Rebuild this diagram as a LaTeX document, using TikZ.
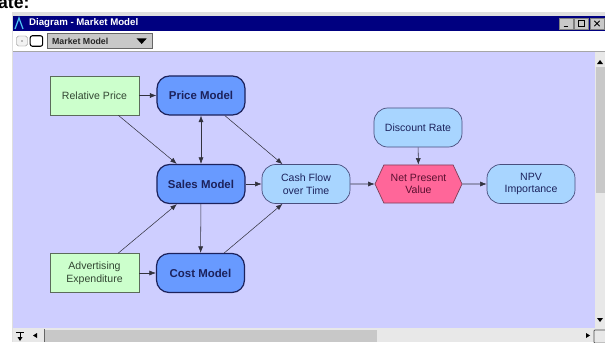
\documentclass[tikz,border=0pt]{standalone}
\usepackage{fontspec}
\setmainfont{Liberation Sans}
\usepackage{tikz}
\usetikzlibrary{positioning, calc, arrows.meta, shapes.symbols}
\definecolor{canvasLav}{RGB}{206, 206, 255}
\definecolor{titleNavy}{RGB}{0, 0, 128}
\definecolor{inGreen}{RGB}{204, 255, 204}
\definecolor{inText}{RGB}{50, 70, 50}
\definecolor{modelBlue}{RGB}{104, 154, 255}
\definecolor{varBlue}{RGB}{168, 213, 255}
\definecolor{valPink}{RGB}{255, 102, 153}
\definecolor{valText}{RGB}{90, 16, 48}
\definecolor{textNavy}{RGB}{28, 34, 92}
\definecolor{lineGray}{RGB}{50, 50, 62}
\definecolor{winGray}{RGB}{200, 200, 200}
\definecolor{trackGray}{RGB}{232, 232, 232}
\tikzset{
  inputbox/.style={rectangle, draw=inText!80, fill=inGreen, line width=0.8pt,
                   minimum width=3.56cm, minimum height=1.56cm,
                   align=center, text=inText, font=\fontsize{12}{14.5}\selectfont},
  modelbox/.style={rectangle, draw=textNavy, fill=modelBlue, line width=1.4pt,
                   minimum width=3.52cm, minimum height=1.56cm, rounded corners=0.5cm,
                   align=center, text=textNavy, font=\fontsize{13}{15}\selectfont\bfseries},
  varbox/.style={rectangle, draw=textNavy!80, fill=varBlue, line width=0.8pt,
                 minimum width=3.52cm, minimum height=1.56cm, rounded corners=0.55cm,
                 align=center, text=textNavy, font=\fontsize{12}{14.5}\selectfont},
  valuebox/.style={signal, signal to=west and east, signal pointer angle=130,
                   draw=valText!80, fill=valPink, line width=0.8pt,
                   minimum width=3.48cm, minimum height=1.52cm,
                   align=center, text=valText, font=\fontsize{12}{14.5}\selectfont},
  winbtn/.style={rectangle, fill=winGray, draw=gray, line width=0.4pt,
                 minimum width=0.56cm, minimum height=0.46cm, inner sep=0pt},
}

\begin{document}
\begin{tikzpicture}[
    x=0.04cm, y=-0.04cm,
    arrow/.style={-{Latex[length=2.6mm, width=2mm]}, draw=lineGray, line width=0.6pt},
    biarrow/.style={{Latex[length=2.6mm, width=2mm]}-{Latex[length=2.6mm, width=2mm]},
                    draw=lineGray, line width=0.6pt},
  ]
    \useasboundingbox (0,0) rectangle (605,342);
    \fill[white] (0,0) rectangle (605,342);

    % text cut off above the window
    \node[anchor=base west, inner sep=0pt, font=\fontsize{20}{24}\selectfont\bfseries] (cuttext)
         at (-2,9) {ate:};

    % window frame and title bar
    \fill[gray!25] (12,12) rectangle (605,342);
    \fill[titleNavy] (13,16) rectangle (605,31);
    \draw[cyan!70!white, line width=1.4pt] (15,29) -- (19,18) -- (23,29);
    \node[anchor=west, inner sep=0pt, text=white, font=\fontsize{11}{13}\selectfont\bfseries] (title)
         at (29,23.5) {Diagram - Market Model};
    \node[winbtn] (btnclose) at (597,23.5) {};
    \node[winbtn, left=0.04cm of btnclose] (btnmax) {};
    \node[winbtn, left=0.04cm of btnmax] (btnmin) {};
    \draw[line width=1.2pt] ([xshift=-3pt, yshift=-3pt]btnmin.center) -- ([xshift=2pt, yshift=-3pt]btnmin.center);
    \draw[line width=0.9pt] ([xshift=-3.5pt, yshift=-3.5pt]btnmax.center) rectangle ([xshift=3.5pt, yshift=3pt]btnmax.center);
    \draw[line width=1.1pt] ([xshift=-3pt, yshift=-3pt]btnclose.center) -- ([xshift=3pt, yshift=3pt]btnclose.center)
                            ([xshift=-3pt, yshift=3pt]btnclose.center) -- ([xshift=3pt, yshift=-3pt]btnclose.center);

    % toolbar
    \fill[white] (13,31) rectangle (605,51);
    \draw[gray!70, line width=0.8pt] (13,51.5) -- (605,51.5);
    \node[rectangle, rounded corners=2pt, draw=gray, fill=gray!10, minimum width=0.44cm,
          minimum height=0.4cm, inner sep=0pt] (icon1) at (22,41) {};
    \fill[gray] (icon1.center) circle (1pt);
    \node[rectangle, rounded corners=2.5pt, draw=black, line width=1.2pt, minimum width=0.5cm,
          minimum height=0.42cm, inner sep=0pt, right=0.08cm of icon1] (icon2) {};
    \node[rectangle, draw=gray!80!black, fill=winGray, minimum width=4.2cm, minimum height=0.6cm,
          inner sep=0pt] (ddbox) at (100,41) {};
    \node[anchor=west, inner sep=0pt, text=black!85, font=\fontsize{10}{12}\selectfont\bfseries] (ddtext)
         at (52,41) {Market Model};
    \fill ($(ddbox.east)+(-16,-2.5)$) -- ++(10,0) -- ++(-5,5.5) -- cycle;

    % canvas and scroll bars
    \fill[canvasLav] (13,52) rectangle (595,328);
    \fill[trackGray] (595,52) rectangle (605,328);
    \fill[winGray] (595.5,67) rectangle (605,193);
    \fill (597,64) -- (603,64) -- (600,60) -- cycle;
    \fill (597,318) -- (603,318) -- (600,322) -- cycle;
    \fill[trackGray] (13,328) rectangle (605,342);
    \fill[winGray] (45,329.5) rectangle (377,342);
    \draw[gray!80!black, line width=0.8pt] (44.5,329) -- (44.5,342);
    \draw[line width=1pt] (16,332) -- (24,332) (20,332) -- (20,339);
    \fill (20,341) -- (17.5,337) -- (22.5,337) -- cycle;
    \fill (33,335.5) -- (37,333) -- (37,338) -- cycle;
    \fill (590,335.5) -- (586,333) -- (586,338) -- cycle;
    \draw[gray!60!black, line width=0.8pt, rounded corners=1pt] (594,330) rectangle (606,343);

    % model nodes
    \node[inputbox] (relp) at (94.5,95.5)  {Relative Price};
    \node[inputbox] (adv)  at (94.5,273)   {Advertising\\Expenditure};
    \node[modelbox] (price) at (201,95.5)  {Price Model};
    \node[modelbox] (sales) at (201,184)   {Sales Model};
    \node[modelbox] (cost)  at (200.5,273) {Cost Model};
    \node[varbox] (cash) at (306,184)      {Cash Flow\\over Time};
    \node[varbox] (disc) at (418,127.5)    {Discount Rate};
    \node[valuebox] (npv) at (418.5,184)   {Net Present\\Value};
    \node[varbox] (imp) at (531,184)       {NPV\\Importance};

    % influence arrows
    \draw[arrow] (relp) -- (price);
    \draw[arrow] (relp) -- (sales);
    \draw[biarrow] (price) -- (sales);
    \draw[arrow] (price) -- (cash);
    \draw[arrow] (sales) -- (cash);
    \draw[arrow] (sales) -- (cost);
    \draw[arrow] (adv) -- (sales);
    \draw[arrow] (adv) -- (cost);
    \draw[arrow] (cost) -- (cash);
    \draw[arrow] (cash) -- (npv);
    \draw[arrow] (disc) -- (npv);
    \draw[arrow] (npv) -- (imp);
  \end{tikzpicture}
\end{document}
